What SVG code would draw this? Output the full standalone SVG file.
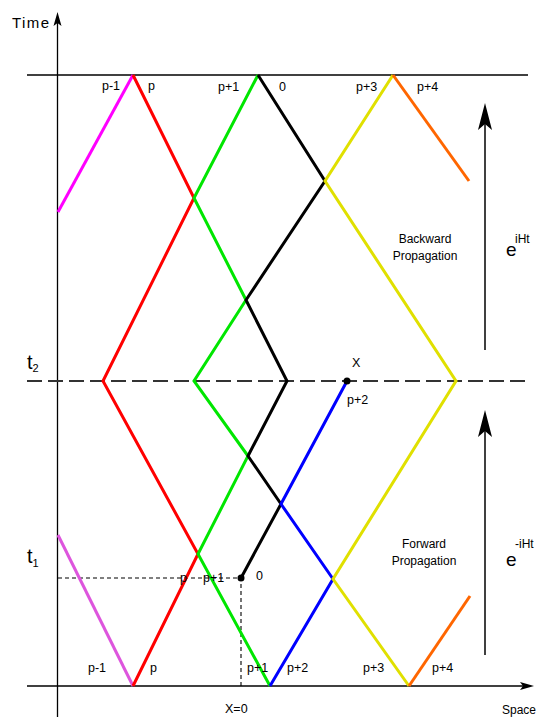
<svg xmlns="http://www.w3.org/2000/svg" width="541" height="717" viewBox="0 0 541 717">
<style>
  text { font-family: "Liberation Sans", Arial, sans-serif; fill: #000; }
  .lbl { font-size: 12.5px; }
  .small { font-size: 12px; }
  .axis { stroke: #000; stroke-width: 1.3; fill: none; }
  .path { fill: none; stroke-width: 3; stroke-linejoin: miter; stroke-linecap: butt; }
  .arrow { stroke: #000; stroke-width: 1.5; fill: none; }
  .head { fill: #000; stroke: none; }
</style>
<rect width="541" height="717" fill="#fff"/>

<g id="axes">
  <line class="axis" x1="57.5" y1="20" x2="57.5" y2="717"/>
  <path class="head" d="M57.5,12 L61.5,26 L57.5,23 L53.5,26 Z"/>
  <line class="axis" x1="27" y1="686" x2="526" y2="686"/>
  <path class="head" d="M534,686 L520,690 L523,686 L520,682 Z"/>
  <line class="axis" x1="27" y1="75" x2="528" y2="75"/>
  <line x1="27" y1="381" x2="528" y2="381" stroke="#333" stroke-width="2" stroke-dasharray="15,6"/>
  <polyline points="58,578 241,578 241,686" fill="none" stroke="#000" stroke-width="1.1" stroke-dasharray="4,3"/>
</g>

<g id="connectors">
  <polyline class="path" stroke="#ff00ff" points="58,212 133,75"/>
  <polyline class="path" stroke="#dd55dd" points="58,535 133,686"/>
  <polyline class="path" stroke="#ff0000" points="133,75 194,198 103,381 198,554 133,686"/>
  <polyline class="path" stroke="#00e600" points="258,75 194,198 246,300 194,381 248,456 198,554 270,686"/>
  <polyline class="path" stroke="#000000" points="258,75 325,181 246,300 287,381 248,456 281,504 241,578"/>
  <polyline class="path" stroke="#0000ff" points="347,381 281,504 333,579 270,686"/>
  <polyline class="path" stroke="#e0e000" points="393,75 325,181 456,381 333,579 409,686"/>
  <polyline class="path" stroke="#ff6600" points="393,75 469,181"/>
  <polyline class="path" stroke="#ff6600" points="409,686 470,596"/>
  <line class="arrow" x1="485" y1="350" x2="485" y2="122"/>
  <path class="head" d="M485,103 L492,130 L485,124 L478,130 Z"/>
  <line class="arrow" x1="485" y1="655" x2="485" y2="429"/>
  <path class="head" d="M485,410 L492,437 L485,431 L478,437 Z"/>
</g>

<g id="points">
  <circle cx="347" cy="381" r="3.5" fill="#000"/>
  <circle cx="241" cy="578" r="3.5" fill="#000"/>
</g>

<g id="labels">
  <text x="12" y="28" font-size="15" textLength="37" lengthAdjust="spacing">Time</text>
  <text x="502" y="714" font-size="12">Space</text>
  <text x="27" y="369" font-size="20">t<tspan font-size="11" dy="3">2</tspan></text>
  <text x="27" y="563" font-size="20">t<tspan font-size="11" dy="4">1</tspan></text>

  <text class="lbl" x="102" y="90">p-1</text>
  <text class="lbl" x="148" y="90">p</text>
  <text class="lbl" x="218" y="91">p+1</text>
  <text class="lbl" x="279" y="91">0</text>
  <text class="lbl" x="356" y="91">p+3</text>
  <text class="lbl" x="417" y="91">p+4</text>

  <text class="lbl" x="352" y="367">X</text>
  <text class="lbl" x="347" y="404">p+2</text>

  <text class="lbl" x="180" y="582">p</text>
  <text class="lbl" x="203" y="582">p+1</text>
  <text class="lbl" x="256" y="580">0</text>

  <text class="lbl" x="88" y="672">p-1</text>
  <text class="lbl" x="150" y="672">p</text>
  <text class="lbl" x="247" y="672">p+1</text>
  <text class="lbl" x="287" y="672">p+2</text>
  <text class="lbl" x="363" y="672">p+3</text>
  <text class="lbl" x="432" y="672">p+4</text>
  <text class="lbl" x="225" y="713">X=0</text>

  <text class="small" x="425" y="243" text-anchor="middle">Backward</text>
  <text class="small" x="425" y="260" text-anchor="middle">Propagation</text>
  <text class="small" x="424" y="548" text-anchor="middle">Forward</text>
  <text class="small" x="424" y="565" text-anchor="middle">Propagation</text>

  <text x="506" y="256" font-size="19">e</text>
  <text x="515" y="243" font-size="12">iHt</text>
  <text x="506" y="566" font-size="19">e</text>
  <text x="515" y="548" font-size="12">-iHt</text>
</g>
</svg>
